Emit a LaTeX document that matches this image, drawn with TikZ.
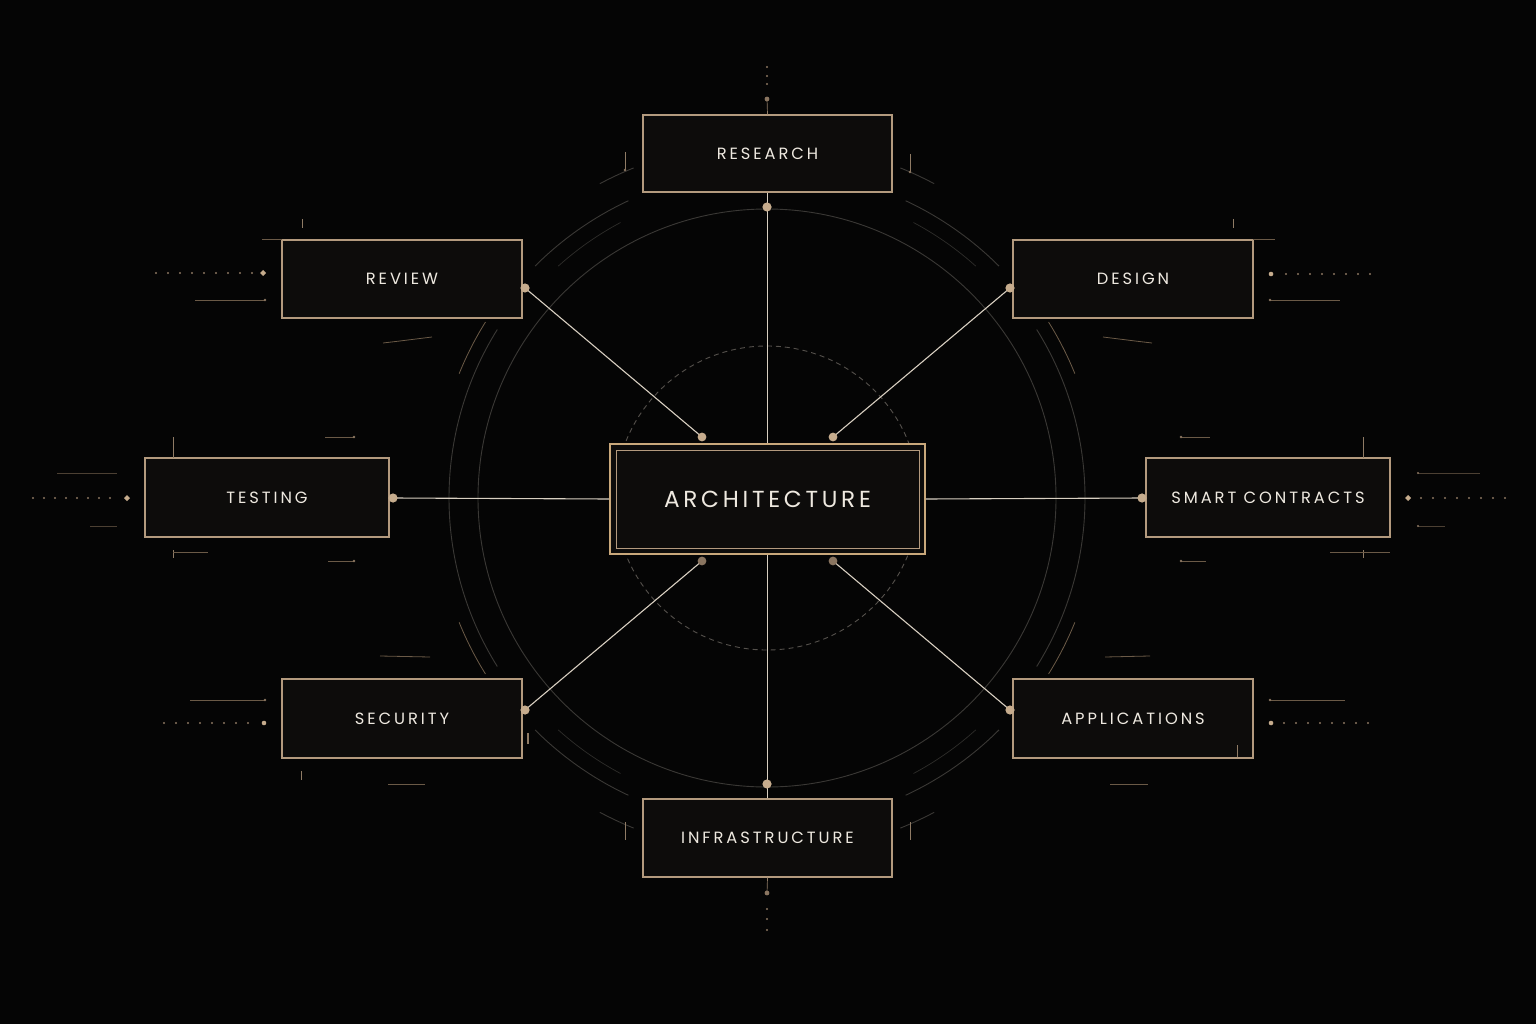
\documentclass[tikz,border=0pt]{standalone}
\usepackage{fontspec}
\newfontfamily\lbl{Poppins}[LetterSpace=18]
\newfontfamily\lblbig{Poppins}[LetterSpace=16]
\definecolor{bg}{HTML}{050505}
\definecolor{boxfill}{HTML}{0D0C0B}
\definecolor{border}{HTML}{B39A7E}
\definecolor{gold}{HTML}{C9A87B}
\definecolor{conn}{HTML}{D8CFC1}
\definecolor{dotc}{HTML}{C6AC8D}
\definecolor{dimdot}{HTML}{8A7560}
\definecolor{faint}{HTML}{3A3835}
\definecolor{dashc}{HTML}{55514C}
\definecolor{faintgold}{HTML}{6B5A47}
\definecolor{txt}{HTML}{EEE9E0}
\begin{document}
\begin{tikzpicture}[x=1pt,y=-1pt,
  box/.style={draw=border, line width=1.1pt, fill=boxfill, minimum width=240pt, minimum height=78pt,
    inner sep=0pt, text=txt, font=\lbl\fontsize{16.3}{17}\selectfont},
  link/.style={draw=conn, line width=1.1pt},
  knob/.style={fill=dotc},
  dknob/.style={fill=dimdot},
  ring/.style={draw=faint, line width=0.9pt},
  deco/.style={draw=faintgold, line width=0.8pt},
  tick/.style={draw=border!80!black, line width=1pt},
  pin/.style={fill=dimdot},
]
% background
\fill[bg] (0,0) rectangle (1536,1024);
\useasboundingbox (0,0) rectangle (1536,1024);
\coordinate (c) at (767,498);

% rings
\draw[ring] (c) circle[radius=289pt];
\draw[draw=dashc, line width=0.9pt, dash pattern=on 5pt off 4pt] (c) circle[radius=152pt];
\foreach \a/\b in {115/135, 45/65, -135/-115, -65/-45}{
  \draw[ring] ([shift={(\a:328pt)}]c) arc[start angle=\a, end angle=\b, radius=328pt];
  \draw[draw=faint!80!black, line width=0.7pt] ([shift={(\a+3:312pt)}]c) arc[start angle=\a+3, end angle=\b-3, radius=312pt];
}
\draw[ring] ([shift={(-32:318pt)}]c) arc[start angle=-32, end angle=32, radius=318pt];
\draw[ring] ([shift={(148:318pt)}]c) arc[start angle=148, end angle=212, radius=318pt];
\draw[deco] ([shift={(148:332pt)}]c) arc[start angle=148, end angle=158, radius=332pt];
\draw[deco] ([shift={(22:332pt)}]c) arc[start angle=22, end angle=32, radius=332pt];
\draw[deco] ([shift={(-158:332pt)}]c) arc[start angle=-158, end angle=-148, radius=332pt];
\draw[deco] ([shift={(-32:332pt)}]c) arc[start angle=-32, end angle=-22, radius=332pt];
% short outer arc pieces
\foreach \a in {112,62,-118,-68}{
  \draw[ring] ([shift={(\a:356pt)}]c) arc[start angle=\a, end angle=\a+6, radius=356pt];
}
\draw[deco] (383,343) .. controls (400,341) .. (432,337);
\draw[deco] (1103,337) .. controls (1135,341) .. (1152,343);

% nodes
\node[box, minimum width=249pt, minimum height=77pt] (res) at (767.5,153.5) {RESEARCH};
\node[box] (rev) at (402,279) {REVIEW};
\node[box] (des) at (1133,279) {DESIGN};
\node[box, minimum width=244pt, minimum height=79pt] (tst) at (267,497.5) {TESTING};
\node[box, minimum width=244pt, minimum height=79pt] (smc) at (1268,497.5) {SMART CONTRACTS};
\node[box, minimum height=79pt] (sec) at (402,718.5) {SECURITY};
\node[box, minimum height=79pt] (app) at (1133,718.5) {APPLICATIONS};
\node[box, minimum width=249pt, minimum height=78pt] (inf) at (767.5,838) {INFRASTRUCTURE};
\node[draw=gold, line width=1.7pt, fill=boxfill, minimum width=315pt, minimum height=110pt, inner sep=0pt,
  text=txt, font=\lblbig\fontsize{23.2}{24}\selectfont] (arc) at (767.5,499) {ARCHITECTURE};
\node[draw=border, line width=0.8pt, minimum width=303pt, minimum height=98pt] (arcin) at (767.5,499) {};

% connector anchors
\coordinate (pRes) at (767,207);
\coordinate (pInf) at (767,784);
\coordinate (pTst) at (393,498);
\coordinate (pSmc) at (1142,498);
\coordinate (pRev) at (525,288);
\coordinate (pDes) at (1010,288);
\coordinate (pSec) at (525,710);
\coordinate (pApp) at (1010,710);
\coordinate (aNW) at (702,437);
\coordinate (aNE) at (833,437);
\coordinate (aSW) at (702,561);
\coordinate (aSE) at (833,561);

\draw[link] (res.south) -- (arc.north);
\draw[link] (inf.north) -- (arc.south);
\draw[link] (pTst) -- (arc.west);
\draw[link] (arc.east) -- (pSmc);
\draw[link] (pRev) -- (aNW);
\draw[link] (pDes) -- (aNE);
\draw[link] (pSec) -- (aSW);
\draw[link] (pApp) -- (aSE);
\foreach \p in {pRes,pInf,pTst,pSmc,pRev,pDes,pSec,pApp}{ \fill[knob] (\p) circle[radius=4.6pt]; }
\foreach \p in {aNW,aNE}{ \fill[knob] (\p) circle[radius=4.4pt]; }
\foreach \p in {aSW,aSE}{ \fill[dknob] (\p) circle[radius=4.4pt]; }

% top / bottom dotted stems
\coordinate (tRes) at (767,99);
\coordinate (bInf) at (767,893);
\draw[tick, line width=0.7pt] (tRes) -- (res.north);
\draw[tick, line width=0.7pt] (inf.south) -- (bInf);
\fill[pin] (tRes) circle[radius=2.4pt];
\fill[pin] (bInf) circle[radius=2.4pt];
\foreach \y in {67,76,84}{ \fill[pin] (767,\y) circle[radius=1.2pt]; }
\foreach \y in {909,919,930}{ \fill[pin] (767,\y) circle[radius=1.2pt]; }

% ticks beside research / infrastructure
\draw[tick] (625,152) -- (625,170); \fill[pin] (625,170) circle[radius=1.4pt];
\draw[tick] (910,154) -- (910,172); \fill[pin] (910,172) circle[radius=1.4pt];
\draw[tick] (625,822) -- (625,840);
\draw[tick] (910,822) -- (910,840);

% REVIEW decorations
\foreach \x in {156,168,...,252}{ \fill[pin] (\x,273) circle[radius=1.1pt]; }
\fill[dotc] (263,270) -- (266,273) -- (263,276) -- (260,273) -- cycle;
\draw[deco] (195,300) -- (265,300); \fill[pin] (265,300) circle[radius=1.3pt];
\draw[tick] (302,219) -- (302,228);
\draw[deco] (262,239) -- (282,239);

% DESIGN decorations
\fill[dotc] (1271,274) circle[radius=2.3pt];
\foreach \x in {1286,1298,...,1380}{ \fill[pin] (\x,274) circle[radius=1.1pt]; }
\draw[deco] (1270,300) -- (1340,300); \fill[pin] (1270,300) circle[radius=1.3pt];
\draw[tick] (1233,219) -- (1233,228);
\draw[deco] (1253,239) -- (1275,239);

% TESTING decorations
\foreach \x in {33,44,...,118}{ \fill[pin] (\x,498) circle[radius=1.1pt]; }
\fill[dotc] (127,495) -- (130,498) -- (127,501) -- (124,498) -- cycle;
\draw[deco, draw opacity=0.7] (57,473) -- (117,473);
\draw[deco, draw opacity=0.7] (90,526) -- (117,526);
\draw[tick] (173,437) -- (173,458);
\draw[tick] (173,550) -- (173,558);
\draw[deco] (173,552) -- (208,552);
\draw[deco] (325,437) -- (354,437); \fill[pin] (354,437) circle[radius=1.3pt];
\draw[deco] (328,561) -- (354,561); \fill[pin] (354,561) circle[radius=1.3pt];

% SMART CONTRACTS decorations
\fill[dotc] (1408,495) -- (1411,498) -- (1408,501) -- (1405,498) -- cycle;
\foreach \x in {1421,1433,...,1505}{ \fill[pin] (\x,498) circle[radius=1.1pt]; }
\draw[deco, draw opacity=0.7] (1418,473) -- (1480,473); \fill[pin] (1418,473) circle[radius=1.2pt];
\draw[deco, draw opacity=0.7] (1418,526) -- (1445,526); \fill[pin] (1418,526) circle[radius=1.2pt];
\draw[tick] (1363,437) -- (1363,458);
\draw[tick] (1363,550) -- (1363,558);
\draw[deco] (1330,552) -- (1390,552);
\draw[deco] (1181,437) -- (1210,437); \fill[pin] (1181,437) circle[radius=1.3pt];
\draw[deco] (1181,561) -- (1206,561); \fill[pin] (1181,561) circle[radius=1.3pt];

% SECURITY decorations
\draw[deco] (190,700) -- (265,700); \fill[pin] (265,700) circle[radius=1.3pt];
\foreach \x in {164,176,...,252}{ \fill[pin] (\x,723) circle[radius=1.1pt]; }
\fill[dotc] (264,723) circle[radius=2.3pt];
\draw[deco] (380,656) -- (430,657);
\draw[tick] (301,771) -- (301,780);
\draw[deco] (388,784) -- (425,784);
\draw[tick, line width=1.6pt] (528,733) -- (528,744);

% APPLICATIONS decorations
\draw[deco] (1270,700) -- (1345,700); \fill[pin] (1270,700) circle[radius=1.3pt];
\fill[dotc] (1271,723) circle[radius=2.3pt];
\foreach \x in {1284,1296,...,1368}{ \fill[pin] (\x,723) circle[radius=1.1pt]; }
\draw[deco] (1105,657) -- (1150,656);
\draw[tick] (1237,745) -- (1237,757);
\draw[deco] (1110,784) -- (1148,784);
\end{tikzpicture}
\end{document}
